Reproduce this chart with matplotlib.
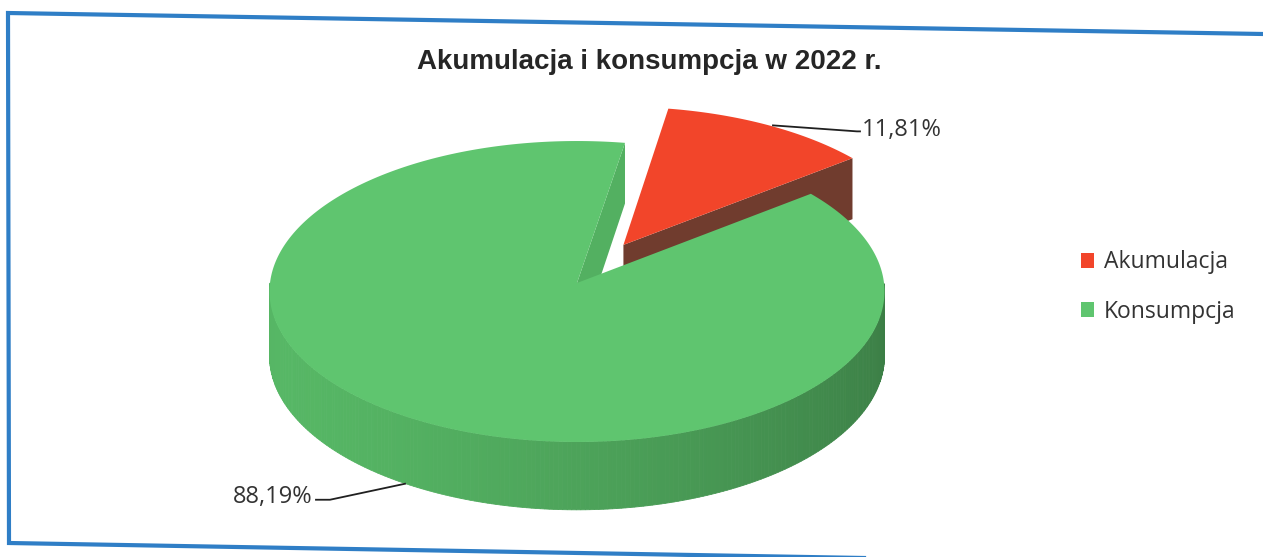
import numpy as np
import matplotlib.pyplot as plt
from matplotlib.patches import Polygon, Patch
from matplotlib.colors import to_rgb

title = 'Akumulacja i konsumpcja w 2022 r.'
labels = ['Akumulacja', 'Konsumpcja']
shares = [11.81, 88.19]
top_colors = ['#f2452a', '#5fc56f']
side_colors = ['#6f3b2e', '#52ae60']
explode = [0.3, 0.0]

# pie geometry in pixels (axes = figure pixels)
cx, cy = 577, 283
rx, ry = 307, 150
depth = 64
persp = 0.0565  # back of the pie drawn smaller than the front
start = 80.5    # angle of first slice, slices run clockwise


def proj(u, v, dz=0.0):
    s = 1.0 / (1.0 + persp * v)
    return cx + rx * u * s, cy - ry * v * s + dz * depth * s


def edge(ang, ou, ov, r=1.0, dz=0.0):
    a = np.radians(ang)
    return proj(ou + r * np.cos(a), ov + r * np.sin(a), dz)


def shade(color, ang):
    f = 0.88 + 0.17 * np.cos(np.radians(ang - 200))
    return tuple(min(1, c * f) for c in to_rgb(color))


def main():
    fig = plt.figure(figsize=(12.63, 5.57), dpi=100)
    ax = fig.add_axes([0, 0, 1, 1])
    ax.set_xlim(0, 1263)
    ax.set_ylim(557, 0)
    ax.axis('off')

    # border of the scanned chart area
    ax.plot([1263, 8, 9, 1263], [34, 13, 543, 565], color='#2f7ec6', lw=3,
            solid_joinstyle='miter')

    slices = []
    a0 = start
    for s, ex in zip(shares, explode):
        a1 = a0 - s * 3.6
        mid = (a0 + a1) / 2
        ou = ex * np.cos(np.radians(mid))
        ov = ex * np.sin(np.radians(mid))
        slices.append((a0, a1, mid, ou, ov))
        a0 = a1

    for (a0, a1, mid, ou, ov), tc, sc in zip(slices, top_colors, side_colors):
        o_top = proj(ou, ov)
        o_bot = proj(ou, ov, 1)
        # radial faces turned to the viewer
        for ang, vis in ((a0, np.cos(np.radians(a0)) < 0), (a1, np.cos(np.radians(a1)) > 0)):
            if vis:
                face = [o_top, edge(ang, ou, ov), edge(ang, ou, ov, dz=1), o_bot]
                ax.add_patch(Polygon(face, closed=True, fc=shade(sc, 240), ec='none'))
        # outer wall, front half only
        angs = np.linspace(a1, a0, 400)
        for p, q in zip(angs[:-1], angs[1:]):
            m = (p + q) / 2
            if np.sin(np.radians(m)) >= 0:
                continue
            quad = [edge(p, ou, ov), edge(q, ou, ov), edge(q, ou, ov, dz=1), edge(p, ou, ov, dz=1)]
            col = shade(sc, m)
            ax.add_patch(Polygon(quad, closed=True, fc=col, ec=col, lw=0.6))
        # top face
        arc = [edge(a, ou, ov) for a in np.linspace(a0, a1, 300)]
        ax.add_patch(Polygon([o_top] + arc, closed=True, fc=tc, ec='none'))

    txt = dict(family=['Open Sans', 'DejaVu Sans'], fontsize=17, color='#333333')

    # data labels with leader lines
    a0, a1, mid, ou, ov = slices[0]
    x, y = edge(mid, ou, ov)
    x += 4
    ax.plot([x, x + 84, x + 87], [y, y + 6, y + 6], color='#202020', lw=1.3)
    ax.text(x + 89, y + 5, f'{shares[0]:.2f}%'.replace('.', ','), ha='left', va='center', **txt)

    a0, a1, mid, ou, ov = slices[1]
    x, y = edge(mid, ou, ov, dz=1)
    x, y = x - 7, y - 2
    ax.plot([x, x - 75, x - 89], [y, y + 16, y + 16], color='#202020', lw=1.3)
    ax.text(x - 92, y + 13, f'{shares[1]:.2f}%'.replace('.', ','), ha='right', va='center', **txt)

    ax.text(649, 62, title, ha='center', va='center', fontsize=20, fontweight='bold',
            family=['Liberation Sans', 'DejaVu Sans'], color='#262626')

    handles = [Patch(fc=c, ec='none') for c in top_colors]
    ax.legend(handles, labels, loc='center left', bbox_to_anchor=(1060 / 1263, 1 - 287 / 557),
              frameon=False, handlelength=0.6, handleheight=0.6, handletextpad=0.4,
              labelspacing=1.1, prop={'family': ['Open Sans', 'DejaVu Sans'], 'size': 16.5},
              labelcolor='#333333')

    fig.savefig('out.png', dpi=100, facecolor='white')


if __name__ == '__main__':
    main()
